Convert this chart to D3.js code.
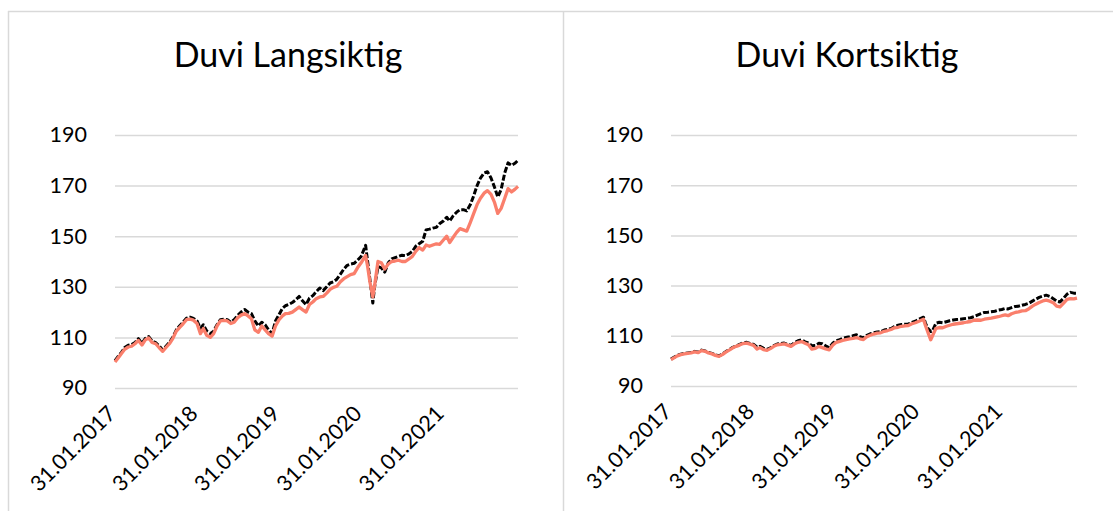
<!DOCTYPE html>
<html>
<head>
<meta charset="utf-8">
<script src="https://cdn.jsdelivr.net/npm/d3@7"></script>
<style>
  body { margin: 0; background: #fff; }
  svg { display: block; font-family: Lato, "Liberation Sans", sans-serif; }
</style>
</head>
<body>
<div id="chart"></div>
<script>
// observation dates (roughly twice a month, extra points around the March 2020 dip)
var dates = [
  "2017-01-31","2017-02-15","2017-02-28","2017-03-15","2017-03-31","2017-04-15","2017-04-30","2017-05-15","2017-05-31","2017-06-15","2017-06-30","2017-07-15",
  "2017-07-31","2017-08-15","2017-08-31","2017-09-15","2017-09-30","2017-10-15","2017-10-31","2017-11-15","2017-11-30","2017-12-15","2017-12-31",
  "2018-01-15","2018-01-31","2018-02-15","2018-02-28","2018-03-15","2018-03-31","2018-04-15","2018-04-30","2018-05-15","2018-05-31","2018-06-15","2018-06-30",
  "2018-07-15","2018-07-31","2018-08-15","2018-08-31","2018-09-15","2018-09-30","2018-10-15","2018-10-31","2018-11-15","2018-11-30","2018-12-15","2018-12-31",
  "2019-01-15","2019-01-31","2019-02-15","2019-02-28","2019-03-15","2019-03-31","2019-04-15","2019-04-30","2019-05-15","2019-05-31","2019-06-15","2019-06-30",
  "2019-07-15","2019-07-31","2019-08-15","2019-08-31","2019-09-15","2019-09-30","2019-10-15","2019-10-31","2019-11-15","2019-11-30","2019-12-15","2019-12-31",
  "2020-01-15","2020-01-31","2020-02-20","2020-02-29","2020-03-10","2020-03-23","2020-03-31","2020-04-15","2020-04-30","2020-05-15","2020-05-31","2020-06-15",
  "2020-06-30","2020-07-15","2020-07-31","2020-08-15","2020-08-31","2020-09-15","2020-09-30","2020-10-15","2020-10-31","2020-11-15","2020-11-30","2020-12-15","2020-12-31",
  "2021-01-15","2021-01-31","2021-02-15","2021-02-28","2021-03-15","2021-03-31","2021-04-15","2021-04-30","2021-05-15","2021-05-31","2021-06-15","2021-06-30",
  "2021-07-15","2021-07-31","2021-08-15","2021-08-31","2021-09-15","2021-09-30","2021-10-15","2021-10-31","2021-11-15","2021-11-30","2021-12-15","2021-12-29"
];

// Duvi Langsiktig - black dashed series
var langFund = [
  100.8,102.6,104.0,106.0,106.9,107.2,108.0,109.5,107.6,109.6,110.3,108.5,107.9,106.7,105.0,106.5,108.0,110.0,113.0,114.6,116.0,117.6,118.0,
  117.5,116.5,113.5,115.0,112.5,111.5,112.5,115.0,117.0,117.2,117.0,116.0,117.0,118.7,120.0,121.0,120.0,119.4,116.5,114.5,116.0,115.0,113.0,111.5,
  116.5,119.0,121.5,122.5,123.0,123.8,124.8,126.2,124.5,123.0,125.5,126.5,128.0,129.5,128.5,130.0,131.5,132.0,133.0,135.0,137.0,138.5,139.0,139.3,
  140.5,142.0,146.4,140.0,133.0,123.6,130.0,138.0,137.5,135.8,139.5,141.0,141.5,142.0,142.5,142.3,143.0,144.0,146.0,147.0,148.0,152.5,152.8,153.2,153.5,
  155.0,156.0,157.5,156.0,158.0,159.5,160.5,160.5,160.0,162.5,166.0,170.0,173.0,175.0,175.5,173.0,169.5,165.5,168.5,175.0,179.0,178.0,178.8,180.0
];
// Duvi Langsiktig - red series
var langIndex = [
  100.3,102.0,103.5,105.3,106.2,106.5,107.5,108.8,107.0,109.0,109.8,108.0,107.5,106.0,104.5,106.0,107.5,109.5,112.5,114.0,115.4,117.0,117.2,
  116.8,115.5,111.5,113.5,110.8,110.0,111.5,114.5,116.5,116.7,116.5,115.5,116.0,117.8,118.8,119.4,118.5,117.4,113.0,112.0,114.5,113.0,111.5,110.5,
  114.5,117.0,118.5,119.4,119.5,120.0,121.0,122.0,121.0,120.0,123.0,124.0,125.3,126.0,126.2,127.5,129.0,129.8,130.2,132.0,133.2,134.0,134.8,135.2,
  137.5,139.5,142.4,138.0,132.0,126.0,130.5,140.0,139.5,137.0,139.0,140.0,140.2,140.5,140.0,140.0,141.0,142.0,144.0,145.5,144.5,146.5,146.0,146.5,147.0,
  146.8,148.5,150.0,147.5,149.5,151.5,153.0,152.5,152.0,155.5,159.0,162.5,165.0,167.0,168.0,166.5,163.5,159.0,161.0,165.0,168.8,167.5,168.5,169.7
];
// Duvi Kortsiktig - black dashed series
var kortFund = [
  100.7,101.5,102.2,102.7,103.0,103.2,103.4,103.8,103.5,104.3,104.0,103.4,103.0,102.4,102.0,102.7,103.7,104.5,105.4,106.0,106.6,107.2,107.4,
  107.0,106.6,105.5,105.8,105.1,104.6,105.2,106.1,106.7,106.9,107.1,106.6,106.2,107.3,108.0,108.4,107.6,107.2,106.0,106.2,107.0,106.8,106.0,105.2,
  107.0,108.0,108.5,109.0,109.3,109.6,110.0,110.4,109.7,109.2,110.2,110.8,111.2,111.5,111.6,112.3,112.6,112.9,113.7,114.2,114.5,114.6,114.7,115.3,
  115.8,116.6,117.4,115.0,113.0,111.7,112.0,115.0,115.4,115.2,115.6,116.0,116.3,116.5,116.6,116.8,117.0,117.2,117.6,118.2,118.8,119.3,119.4,119.6,119.8,
  120.2,120.5,120.9,120.7,121.2,121.7,121.8,122.2,122.5,123.0,123.8,124.6,125.3,125.8,126.2,125.7,124.8,123.8,123.5,125.0,126.6,127.3,127.0,127.0
];
// Duvi Kortsiktig - red series
var kortIndex = [
  100.5,101.3,102.0,102.5,102.8,103.0,103.2,103.6,103.3,104.1,103.8,103.2,102.8,102.2,101.8,102.5,103.5,104.3,105.2,105.8,106.3,106.9,107.1,
  106.7,106.2,104.7,105.3,104.5,104.2,104.9,105.8,106.4,106.6,106.8,106.3,105.8,106.8,107.4,107.7,107.0,106.4,104.7,105.0,105.8,105.3,104.8,104.4,
  106.2,107.4,107.8,108.2,108.5,108.8,109.0,109.3,108.8,108.5,109.6,110.2,110.7,111.1,111.2,111.8,112.1,112.5,113.2,113.4,113.8,114.0,114.1,114.8,
  115.2,115.8,116.6,114.0,111.5,108.4,110.0,113.0,113.3,113.2,113.8,114.2,114.6,114.8,115.0,115.2,115.5,115.7,116.2,116.3,116.2,116.6,116.8,117.0,117.3,
  117.6,118.0,118.3,118.0,118.8,119.3,119.5,119.9,120.0,120.8,121.8,122.6,123.3,123.9,124.2,123.8,123.2,121.8,121.5,123.0,124.5,124.8,124.7,125.0
];

var yTicks = [90, 110, 130, 150, 170, 190];
var xTickDates = ["2017-01-31", "2018-01-31", "2019-01-31", "2020-01-31", "2021-01-31"];
var titles = ["Duvi Langsiktig", "Duvi Kortsiktig"];

var parseDate = d3.timeParse("%Y-%m-%d");
var fmt = d3.timeFormat("%d.%m.%Y");
var dateObjs = dates.map(parseDate);

var width = 1113, height = 511;
var borderColor = "#d9d9d9";
var fundColor = "#000000", indexColor = "#fa7f6c";

var svg = d3.select("#chart").append("svg")
    .attr("width", width)
    .attr("height", height);

svg.append("rect").attr("width", width).attr("height", height).attr("fill", "#fff");

// chart area borders (Excel style)
svg.append("line").attr("x1", 8).attr("x2", width).attr("y1", 11.5).attr("y2", 11.5)
    .attr("stroke", borderColor).attr("stroke-width", 1.5);
svg.append("line").attr("x1", 8.5).attr("x2", 8.5).attr("y1", 11).attr("y2", height)
    .attr("stroke", borderColor).attr("stroke-width", 1.5);
svg.append("line").attr("x1", 563.5).attr("x2", 563.5).attr("y1", 11).attr("y2", height)
    .attr("stroke", borderColor).attr("stroke-width", 1.5);

var panels = [
    {title: titles[0], fund: langFund, index: langIndex, x0: 115, x1: 518, yBottom: 388, yTop: 135, titleX: 288},
    {title: titles[1], fund: kortFund, index: kortIndex, x0: 671, x1: 1077, yBottom: 386, yTop: 135, titleX: 847}
];

panels.forEach(function(p) {
    var x = d3.scaleTime()
        .domain([dateObjs[0], dateObjs[dateObjs.length - 1]])
        .range([p.x0, p.x1]);
    var y = d3.scaleLinear()
        .domain([90, 190])
        .range([p.yBottom, p.yTop]);

    var g = svg.append("g");

    // title
    g.append("text")
        .attr("x", p.titleX)
        .attr("y", 67)
        .attr("text-anchor", "middle")
        .attr("font-size", 34)
        .attr("fill", "#000")
        .text(p.title);

    // y gridlines + labels
    var yAxis = g.append("g")
        .attr("transform", "translate(" + p.x0 + ",0)")
        .call(d3.axisLeft(y).tickValues(yTicks).tickSize(-(p.x1 - p.x0)).tickPadding(28));
    yAxis.select(".domain").remove();
    yAxis.selectAll(".tick line").attr("stroke", borderColor).attr("stroke-width", 1.5);
    yAxis.selectAll(".tick text")
        .attr("font-size", 21.5)
        .attr("font-family", "Lato, 'Liberation Sans', sans-serif")
        .attr("fill", "#000");

    // x labels, rotated
    g.selectAll(".xlab")
        .data(xTickDates.map(parseDate))
        .enter().append("text")
            .attr("class", "xlab")
            .attr("text-anchor", "end")
            .attr("font-size", 21.5)
            .attr("fill", "#000")
            .attr("transform", function(d) {
                return "translate(" + (x(d) + 2) + "," + (p.yBottom + 27) + ")rotate(-45)";
            })
            .text(function(d) { return fmt(d); });

    var line = function(vals) {
        return d3.line()
            .x(function(d, i) { return x(dateObjs[i]); })
            .y(function(d) { return y(d); })(vals);
    };

    // black dashed series below, red series on top
    g.append("path")
        .attr("d", line(p.fund))
        .attr("fill", "none")
        .attr("stroke", fundColor)
        .attr("stroke-width", 3)
        .attr("stroke-dasharray", "6,2")
        .attr("stroke-linejoin", "round");

    g.append("path")
        .attr("d", line(p.index))
        .attr("fill", "none")
        .attr("stroke", indexColor)
        .attr("stroke-width", 3.3)
        .attr("stroke-linejoin", "round");
});
</script>
</body>
</html>
